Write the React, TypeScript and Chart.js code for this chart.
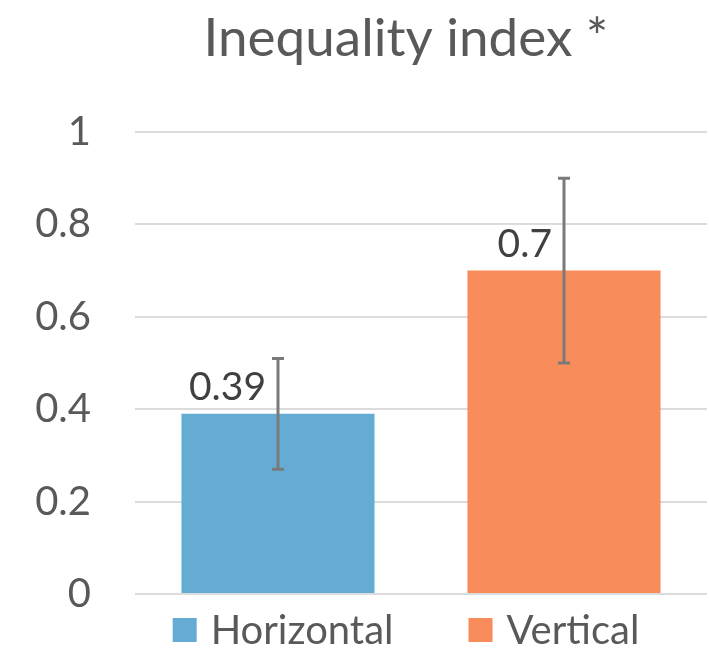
import React, { useEffect, useRef } from "react";
import { Chart, registerables } from "chart.js";

Chart.register(...registerables);

const chartTitle = "Inequality index *";
const categories = [""];
const seriesNames = ["Horizontal", "Vertical"];
const seriesValues = [0.39, 0.7];
const seriesErrors = [0.12, 0.2];
const seriesColors = ["#64acd4", "#f88c5a"];
const yMin = 0;
const yMax = 1;
const yStep = 0.2;

const FONT = "Lato, 'Open Sans', sans-serif";
const TEXT_GREY = "#595959";

const errorBarPlugin = {
  id: "errorBars",
  afterDatasetsDraw(chart: any) {
    const { ctx } = chart;
    const y = chart.scales.y;
    ctx.save();
    ctx.strokeStyle = "#7a7a7a";
    ctx.lineWidth = 3;
    chart.data.datasets.forEach((ds: any, i: number) => {
      const meta = chart.getDatasetMeta(i);
      meta.data.forEach((bar: any, j: number) => {
        const v = ds.data[j];
        const e = seriesErrors[i];
        const top = y.getPixelForValue(v + e);
        const bot = y.getPixelForValue(v - e);
        const x = bar.x;
        ctx.beginPath();
        ctx.moveTo(x, top);
        ctx.lineTo(x, bot);
        ctx.moveTo(x - 6, top);
        ctx.lineTo(x + 6, top);
        ctx.moveTo(x - 6, bot);
        ctx.lineTo(x + 6, bot);
        ctx.stroke();
      });
    });
    ctx.restore();
  },
};

const dataLabelPlugin = {
  id: "dataLabels",
  afterDatasetsDraw(chart: any) {
    const { ctx } = chart;
    ctx.save();
    ctx.font = `39px ${FONT}`;
    ctx.fillStyle = "#404040";
    ctx.textAlign = "right";
    ctx.textBaseline = "alphabetic";
    chart.data.datasets.forEach((ds: any, i: number) => {
      const meta = chart.getDatasetMeta(i);
      meta.data.forEach((bar: any, j: number) => {
        ctx.fillText(String(ds.data[j]), bar.x - 12, bar.y - 14);
      });
    });
    ctx.restore();
  },
};

const titleLegendPlugin = {
  id: "titleLegend",
  afterDraw(chart: any) {
    const { ctx } = chart;
    const cx = 406;
    ctx.save();
    // title
    ctx.font = `53px ${FONT}`;
    ctx.fillStyle = TEXT_GREY;
    ctx.textAlign = "center";
    ctx.textBaseline = "alphabetic";
    ctx.fillText(chartTitle, cx, 56);
    // legend
    ctx.font = `40px ${FONT}`;
    const box = 24;
    const gap = 14;
    const itemGap = 75;
    const widths = chart.data.datasets.map((ds: any) => ctx.measureText(ds.label).width);
    let total = 0;
    widths.forEach((w: number, i: number) => {
      total += box + gap + w + (i > 0 ? itemGap : 0);
    });
    let x = cx - total / 2;
    const yc = 630;
    ctx.textAlign = "left";
    ctx.textBaseline = "middle";
    chart.data.datasets.forEach((ds: any, i: number) => {
      ctx.fillStyle = ds.backgroundColor;
      ctx.fillRect(x, yc - box / 2, box, box);
      ctx.fillStyle = TEXT_GREY;
      ctx.fillText(ds.label, x + box + gap, yc + 1);
      x += box + gap + widths[i] + itemGap;
    });
    ctx.restore();
  },
};

export default function App() {
  const ref = useRef<HTMLCanvasElement>(null);
  useEffect(() => {
    if (!ref.current) return;
    const chart = new Chart(ref.current, {
      type: "bar",
      data: {
        labels: categories,
        datasets: seriesNames.map((name, i) => ({
          label: name,
          data: [seriesValues[i]],
          backgroundColor: seriesColors[i],
          borderWidth: 0,
          categoryPercentage: 1,
          barPercentage: 0.675,
        })),
      },
      options: {
        animation: false,
        responsive: true,
        maintainAspectRatio: false,
        layout: { padding: { top: 132, bottom: 56, left: 0, right: 2 } },
        plugins: {
          legend: { display: false },
          title: { display: false },
          tooltip: { enabled: false },
        },
        scales: {
          x: {
            ticks: { display: false },
            grid: { display: false },
            border: { display: false },
            afterFit: (s: any) => {
              s.height = 0;
            },
          },
          y: {
            min: yMin,
            max: yMax,
            ticks: {
              stepSize: yStep,
              color: TEXT_GREY,
              font: { family: FONT, size: 40 },
              padding: 44,
              callback: (v: any) => `${+Number(v).toFixed(1)}`,
            },
            grid: { color: "#dcdcdc", lineWidth: 2, drawTicks: false },
            border: { display: false },
            afterFit: (s: any) => {
              s.width = 135;
              s.paddingTop = 0;
              s.paddingBottom = 0;
            },
          },
        },
      },
      plugins: [errorBarPlugin, dataLabelPlugin, titleLegendPlugin],
    });
    return () => chart.destroy();
  }, []);
  return (
    <div style={{ position: "absolute", left: 0, top: 0, width: 709, height: 650 }}>
      <canvas ref={ref} />
    </div>
  );
}
